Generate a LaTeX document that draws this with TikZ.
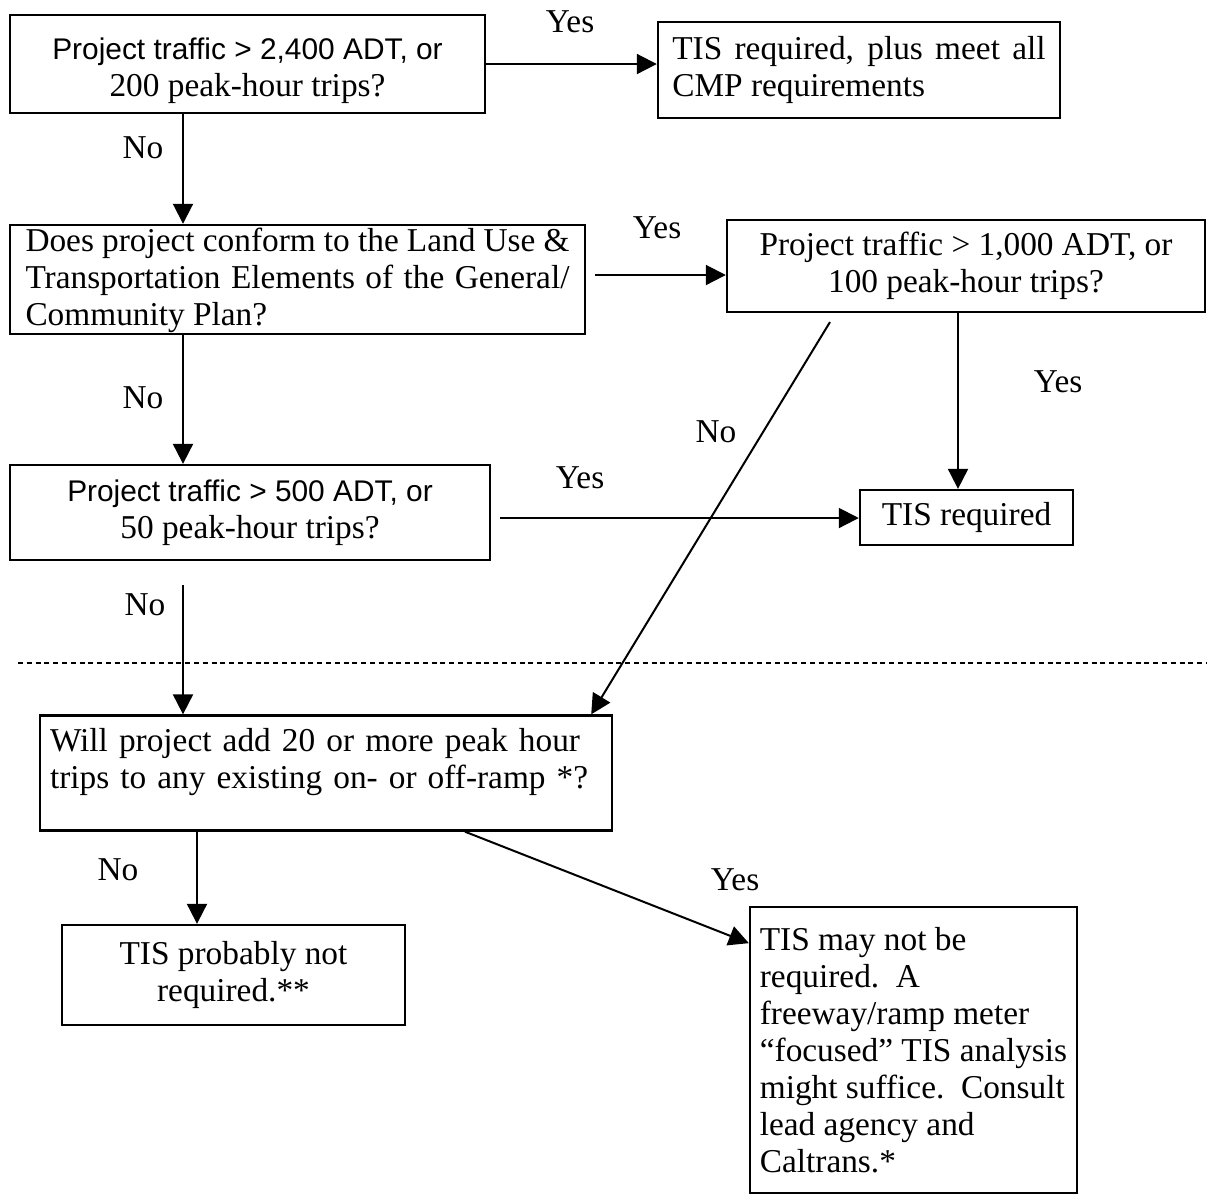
\documentclass[tikz,border=0pt,12pt]{standalone}
\usepackage{fontspec}
\setmainfont{Liberation Serif}
\setsansfont{Liberation Sans}
\usepackage{tikz}
\usetikzlibrary{arrows.meta, positioning}

\begin{document}
\begin{tikzpicture}[
    x=0.375pt, y=-0.375pt,
    box/.style={draw, line width=0.9pt, inner sep=0pt,
                font=\fontsize{12.5}{13.9}\selectfont},
    lbl/.style={font=\fontsize{12.5}{13.9}\selectfont},
    arr/.style={-{Triangle[length=7.5pt, width=7.5pt]}, line width=0.75pt},
    sep/.style={line width=0.6pt, dash pattern=on 1.9pt off 1.4pt}
  ]
    \useasboundingbox (0,0) rectangle (1207,1199);

    % boxes
    \node[box, minimum width=178.1pt, minimum height=36.75pt,
          align=center] (q2400) at (247.5, 64) {
      \rule{0pt}{13pt}{\sffamily\fontsize{11.2}{13.9}\selectfont Project traffic > 2,400 ADT, or}\\
      200 peak-hour trips?
    };
    \node[box, minimum width=150.75pt, minimum height=36pt,
          text width=140pt, align=justify] (cmp) at (859, 70) {
      TIS required, plus meet all\linebreak
      CMP requirements
    };
    \node[box, minimum width=215.6pt, minimum height=40.9pt,
          text width=204pt, align=justify, text depth=30pt] (plan) at (297.5, 279.5) {
      Does project conform to the Land Use \&\linebreak
      Transportation Elements of the General/\linebreak
      Community Plan?
    };
    \node[box, minimum width=179.25pt, minimum height=34.5pt,
          align=center] (q1000) at (966, 266) {
      Project traffic > 1,000 ADT, or\\
      100 peak-hour trips?
    };
    \node[box, minimum width=180pt, minimum height=35.6pt,
          align=center] (q500) at (250, 512.5) {
      {\sffamily\fontsize{11.2}{13.9}\selectfont Project traffic > 500 ADT, or}\\
      50 peak-hour trips?
    };
    \node[box, minimum width=79.9pt, minimum height=20.6pt]
      (tis) at (966.5, 517.5) {TIS required};
    \node[box, minimum width=214.5pt, minimum height=43.1pt,
          text width=207pt, align=left, text depth=24.5pt] (ramp) at (326, 773) {
      Will project add 20 or more peak hour\\
      trips to any existing on- or off-ramp *?
    };
    \node[box, minimum width=128.6pt, minimum height=37.5pt,
          align=center] (notreq) at (233.5, 975) {
      TIS probably not\\
      required.**
    };
    \node[box, minimum width=122.6pt, minimum height=107.25pt,
          align=left] (focus) at (913.5, 1050) {
      TIS may not be\\
      required.\ \ A\\
      freeway/ramp meter\\
      ``focused'' TIS analysis\\
      might suffice.\ \ Consult\\
      lead agency and\\
      Caltrans.*
    };

    % separator
    \draw[sep] (18,663) -- (1207,663);

    % connector ends
    \coordinate (spine) at (183,0);
    \coordinate (colF) at (958,0);
    \coordinate (colH) at (197,0);
    \coordinate (yesC) at (595,275);
    \coordinate (yesE) at (500,518);
    \coordinate (noE) at (183,585);
    \coordinate (noD) at (830,322);
    \coordinate (yesG) at (465,0);

    \draw[arr] (q2400.east) -- (q2400.east -| cmp.west);
    \draw[arr] (q2400.south -| spine) -- (plan.north -| spine);
    \draw[arr] (yesC) -- (yesC -| q1000.west);
    \draw[arr] (plan.south -| spine) -- (q500.north -| spine);
    \draw[arr] (q1000.south -| colF) -- (tis.north -| colF);
    \draw[arr] (noD) -- ([xshift=-8.25pt]ramp.north east);
    \draw[arr] (yesE) -- (yesE -| tis.west);
    \draw[arr] (noE) -- (ramp.north -| spine);
    \draw[arr] (ramp.south -| colH) -- (notreq.north -| colH);
    \draw[arr] (ramp.south -| yesG) -- ([yshift=-14pt]focus.north west);

    % labels
    \node[lbl] (yes1) at (570, 22) {Yes};
    \node[lbl] (no1) at (143, 148) {No};
    \node[lbl] (yes2) at (657, 228) {Yes};
    \node[lbl] (no2) at (143, 398) {No};
    \node[lbl] (yes3) at (1058, 382) {Yes};
    \node[lbl] (no3) at (716, 432) {No};
    \node[lbl] (yes4) at (580, 478) {Yes};
    \node[lbl] (no4) at (145, 605) {No};
    \node[lbl] (no5) at (118, 870) {No};
    \node[lbl] (yes5) at (735, 880) {Yes};
  \end{tikzpicture}
\end{document}
